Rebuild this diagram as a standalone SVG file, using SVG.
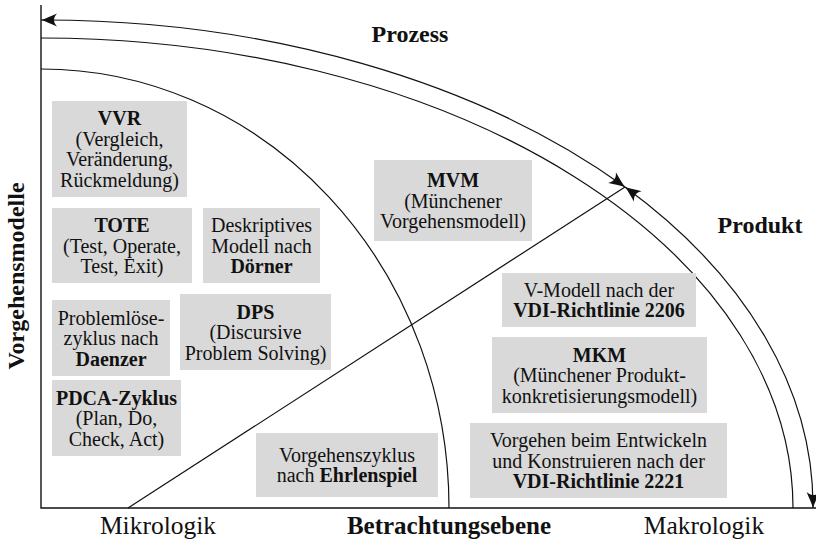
<svg xmlns="http://www.w3.org/2000/svg" width="816" height="542" viewBox="0 0 816 542">
  <defs>
    <style>
      .axis { fill: none; stroke: #111; stroke-width: 1.4; }
      .arc { fill: none; stroke: #111; stroke-width: 1.2; }
      .arrowed { marker-start: url(#tip); marker-end: url(#tip); }
      .box { fill: #d9d9d9; }
      .t { font-family: "Liberation Serif", "Times New Roman", serif; font-size: 20px; fill: #111; text-anchor: middle; }
      .b { font-weight: bold; }
      .lbl { font-family: "Liberation Serif", "Times New Roman", serif; font-size: 24px; fill: #111; text-anchor: middle; }
      .axlbl { font-size: 25.5px; }
    </style>
    <marker id="tip" viewBox="-18 -8 20 16" refX="0" refY="0" markerWidth="20" markerHeight="16" markerUnits="userSpaceOnUse" orient="auto-start-reverse">
      <path d="M0,0 C-4,-1 -10,-4 -16,-6.5 C-12,-2 -12,2 -16,6.5 C-10,4 -4,1 0,0 Z" fill="#111"/>
    </marker>
  </defs>

  <rect width="816" height="542" fill="#fff"/>

  <!-- axes, arcs and arrows -->
  <g id="connectors">
    <path class="axis" d="M41,5 V508 H816"/>
    <path class="arc" d="M41,69 A408,439 0 0 1 449,508"/>
    <path class="arc" d="M41,38 A752,470 0 0 1 793,508"/>
    <path class="arc arrowed" d="M625,187 A772,488 0 0 0 41,20"/>
    <path class="arc arrowed" d="M625,187 A772,488 0 0 1 813,508"/>
    <path class="arc" d="M128,508 L625,187"/>
  </g>

  <!-- axis and region labels -->
  <g id="labels">
    <text class="lbl b" x="410" y="42">Prozess</text>
    <text class="lbl b" x="760" y="233">Produkt</text>
    <text class="lbl axlbl" x="158" y="534">Mikrologik</text>
    <text class="lbl b" x="449" y="534" style="font-size:25px">Betrachtungsebene</text>
    <text class="lbl axlbl" x="704" y="534">Makrologik</text>
    <text class="lbl b" transform="translate(24,276) rotate(-90)">Vorgehensmodelle</text>
  </g>

  <g id="vvr">
    <rect class="box" x="52" y="101" width="135" height="96"/>
    <text class="t b" x="119.5" y="125.25">VVR</text>
    <text class="t" x="119.5" y="145.75">(Vergleich,</text>
    <text class="t" x="119.5" y="166.25">Veränderung,</text>
    <text class="t" x="119.5" y="186.75">Rückmeldung)</text>
  </g>

  <g id="tote">
    <rect class="box" x="52" y="208" width="140" height="75"/>
    <text class="t b" x="122" y="232">TOTE</text>
    <text class="t" x="122" y="252.5">(Test, Operate,</text>
    <text class="t" x="122" y="273">Test, Exit)</text>
  </g>

  <g id="doerner">
    <rect class="box" x="203" y="208" width="117" height="75"/>
    <text class="t" x="261.5" y="232">Deskriptives</text>
    <text class="t" x="261.5" y="252.5">Modell nach</text>
    <text class="t b" x="261.5" y="273">Dörner</text>
  </g>

  <g id="daenzer">
    <rect class="box" x="52" y="300" width="118" height="76"/>
    <text class="t" x="111" y="324.5">Problemlöse-</text>
    <text class="t" x="111" y="345">zyklus nach</text>
    <text class="t b" x="111" y="365.5">Daenzer</text>
  </g>

  <g id="dps">
    <rect class="box" x="180" y="294" width="151" height="76"/>
    <text class="t b" x="255.5" y="318.5">DPS</text>
    <text class="t" x="255.5" y="339">(Discursive</text>
    <text class="t" x="255.5" y="359.5">Problem Solving)</text>
  </g>

  <g id="pdca">
    <rect class="box" x="52" y="380" width="129" height="76"/>
    <text class="t b" x="116.5" y="404.5">PDCA-Zyklus</text>
    <text class="t" x="116.5" y="425">(Plan, Do,</text>
    <text class="t" x="116.5" y="445.5">Check, Act)</text>
  </g>

  <g id="ehrlenspiel">
    <rect class="box" x="256" y="433" width="182" height="64"/>
    <text class="t" x="347" y="461.75">Vorgehenszyklus</text>
    <text class="t" x="347" y="482.25">nach <tspan class="b">Ehrlenspiel</tspan></text>
  </g>

  <g id="mvm">
    <rect class="box" x="374" y="160" width="158" height="81"/>
    <text class="t b" x="453" y="187">MVM</text>
    <text class="t" x="453" y="207.5">(Münchener</text>
    <text class="t" x="453" y="228">Vorgehensmodell)</text>
  </g>

  <g id="vdi2206">
    <rect class="box" x="502" y="273" width="194" height="54"/>
    <text class="t" x="599" y="296.75">V-Modell nach der</text>
    <text class="t b" x="599" y="317.25">VDI-Richtlinie 2206</text>
  </g>

  <g id="mkm">
    <rect class="box" x="492" y="337" width="215" height="76"/>
    <text class="t b" x="599.5" y="361.5">MKM</text>
    <text class="t" x="599.5" y="382">(Münchener Produkt-</text>
    <text class="t" x="599.5" y="402.5">konkretisierungsmodell)</text>
  </g>

  <g id="vdi2221">
    <rect class="box" x="470" y="423" width="257" height="75"/>
    <text class="t" x="598.5" y="447">Vorgehen beim Entwickeln</text>
    <text class="t" x="598.5" y="467.5">und Konstruieren nach der</text>
    <text class="t b" x="598.5" y="488">VDI-Richtlinie 2221</text>
  </g>
</svg>
